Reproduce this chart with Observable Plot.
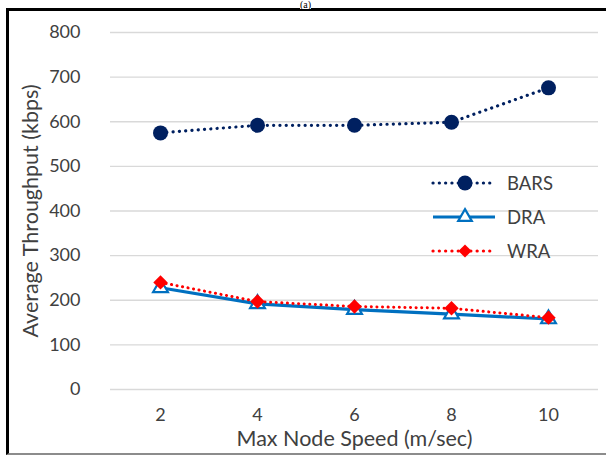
<!DOCTYPE html>
<html>
<head>
<meta charset="utf-8">
<script src="https://cdn.jsdelivr.net/npm/d3@7"></script>
<script src="https://cdn.jsdelivr.net/npm/@observablehq/plot@0.6"></script>
<style>
  html, body { margin: 0; padding: 0; background: #fff; }
  #wrap { position: relative; width: 606px; height: 455px; overflow: hidden; font-family: Lato, "Open Sans", sans-serif; }
  #frame { position: absolute; left: 6px; top: 8px; width: 610px; height: 442px; border-top: 3px solid #000; border-left: 3px solid #000; border-bottom: 2px solid #8c8c8c; box-sizing: content-box; pointer-events: none; }
  #tag { position: absolute; left: 300px; top: 0px; font-family: "Liberation Serif", serif; font-size: 10px; line-height: 9px; color: #000; background: #fff; }
  #chart { position: absolute; left: 0; top: 0; }
  #legend { position: absolute; left: 431px; top: 166px; }
  .row { display: flex; align-items: center; height: 34px; }
  .row span { font-size: 18.5px; color: #404040; margin-left: 10px; }
</style>
</head>
<body>
<div id="wrap">
  <div id="chart"></div>
  <div id="frame"></div>
  <div id="tag">(a)</div>
  <div id="legend"></div>
</div>
<script>
const speeds = [2, 4, 6, 8, 10];
const seriesNames = ["BARS", "DRA", "WRA"];
const barsValues = [575, 592, 592, 599, 676];
const draValues = [228, 192, 179, 169, 158];
const wraValues = [240, 197, 186, 182, 161];
const yTicks = [0, 100, 200, 300, 400, 500, 600, 700, 800];
const xLabel = "Max Node Speed (m/sec)";
const yLabel = "Average Throughput (kbps)";

const colors = {BARS: "#002060", DRA: "#0070C0", WRA: "#FF0000"};

const rows = (name, vals) => speeds.map((s, i) => ({speed: s, value: vals[i], series: name}));
const bars = rows("BARS", barsValues);
const dra = rows("DRA", draValues);
const wra = rows("WRA", wraValues);

const chart = Plot.plot({
  width: 606,
  height: 455,
  marginLeft: 110,
  marginRight: 8,
  marginTop: 32,
  marginBottom: 66,
  style: {fontFamily: "Lato, 'Open Sans', sans-serif", fontSize: "18px", color: "#404040", background: "transparent"},
  x: {type: "point", domain: speeds, padding: 0.5},
  y: {domain: [0, 800]},
  marks: [
    Plot.ruleY(yTicks, {stroke: "#d9d9d9", strokeWidth: 1.3}),
    Plot.axisY({ticks: yTicks, tickSize: 0, tickPadding: 30, label: yLabel, labelAnchor: "center", labelOffset: 88, labelArrow: "none", fill: "#404040"}),
    Plot.axisX({tickSize: 0, tickPadding: 19, label: xLabel, labelAnchor: "center", labelOffset: 56, labelArrow: "none", fill: "#404040"}),
    Plot.line(bars, {x: "speed", y: "value", stroke: colors.BARS, strokeWidth: 3.2, strokeDasharray: "0.1 6.2", strokeLinecap: "round"}),
    Plot.dot(bars, {x: "speed", y: "value", fill: colors.BARS, r: 7.5}),
    Plot.line(dra, {x: "speed", y: "value", stroke: colors.DRA, strokeWidth: 3.2}),
    Plot.dot(dra, {x: "speed", y: "value", symbol: "triangle", fill: "white", stroke: colors.DRA, strokeWidth: 2.2, r: 5.5}),
    Plot.line(wra, {x: "speed", y: "value", stroke: colors.WRA, strokeWidth: 3, strokeDasharray: "0.1 5.5", strokeLinecap: "round"}),
    Plot.dot(wra, {x: "speed", y: "value", symbol: "diamond2", fill: colors.WRA, r: 6.5})
  ]
});
document.getElementById("chart").appendChild(chart);
d3.select(chart).selectAll('g[aria-label="x-axis label"], g[aria-label="y-axis label"]').attr("font-size", "21.5px");

// legend
const legend = d3.select("#legend");
seriesNames.forEach(name => {
  const row = legend.append("div").attr("class", "row");
  const svg = row.append("svg").attr("width", 66).attr("height", 24);
  const c = colors[name];
  const line = svg.append("line").attr("x1", 2).attr("x2", 64).attr("y1", 12).attr("y2", 12)
    .attr("stroke", c).attr("stroke-width", 3.2);
  if (name !== "DRA") line.attr("stroke-dasharray", "0.1 6.2").attr("stroke-linecap", "round");
  const sym = name === "BARS" ? d3.symbolCircle : name === "DRA" ? d3.symbolTriangle : d3.symbolDiamond2;
  const size = name === "BARS" ? Math.PI * 7.5 * 7.5 : name === "DRA" ? 80 : 110;
  svg.append("path").attr("d", d3.symbol(sym, size)()).attr("transform", "translate(34,12)")
    .attr("fill", name === "DRA" ? "white" : c).attr("stroke", name === "DRA" ? c : "none").attr("stroke-width", 2.2);
  row.append("span").text(name);
});
</script>
</body>
</html>
